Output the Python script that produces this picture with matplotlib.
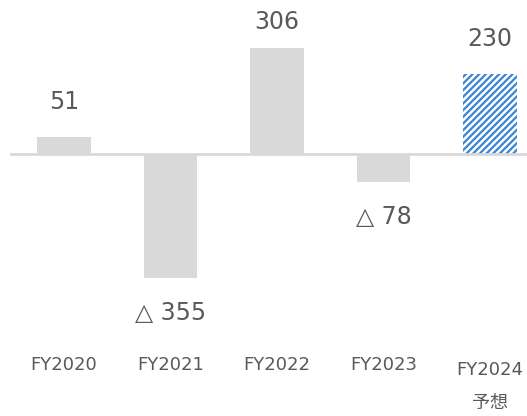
import matplotlib.pyplot as plt
import matplotlib.transforms as mtransforms

plt.rcParams['font.family'] = ['DejaVu Sans', 'Noto Sans CJK JP']
plt.rcParams['hatch.linewidth'] = 1.6

# data
categories = ['FY2020', 'FY2021', 'FY2022', 'FY2023', 'FY2024\n予想']
values = [51, -355, 306, -78, 230]
labels = ['51', '△ 355', '306', '△ 78', '230']
forecast = [False, False, False, False, True]

fig = plt.figure(figsize=(5.27, 4.16), dpi=100)
ax = fig.add_axes([10 / 527, 0, 517 / 527, 1])

gray = '#d9d9d9'
blue = '#3a84d8'
txt = '#595959'

x = list(range(len(values)))
for xi, v, fc in zip(x, values, forecast):
    if fc:
        ax.bar(xi, v, width=0.5, color='white', edgecolor=blue, hatch='/////',
               linewidth=0)
    else:
        ax.bar(xi, v, width=0.5, color=gray, linewidth=0)

ax.axhline(0, color=gray, lw=2, zorder=3)

ax.set_xlim(-0.507, 4.347)
ax.set_ylim(-750, 443)

# value labels, ~35 px away from the bar end
for xi, v, lab in zip(x, values, labels):
    if v >= 0:
        y = min(v + 100, 380)
    else:
        y = v - 100
    ax.text(xi, y, lab, ha='center', va='center', fontsize=17, color=txt)

# category labels
trans = mtransforms.blended_transform_factory(ax.transData, ax.transAxes)
for xi, cat in zip(x, categories):
    if '\n' in cat:
        ax.text(xi, 1 - 361 / 416, cat, ha='center', va='top', fontsize=13,
                color=txt, transform=trans, linespacing=2.1)
    else:
        ax.text(xi, 1 - 365 / 416, cat, ha='center', va='center', fontsize=13,
                color=txt, transform=trans)

ax.axis('off')
fig.savefig('out.png', dpi=100)
